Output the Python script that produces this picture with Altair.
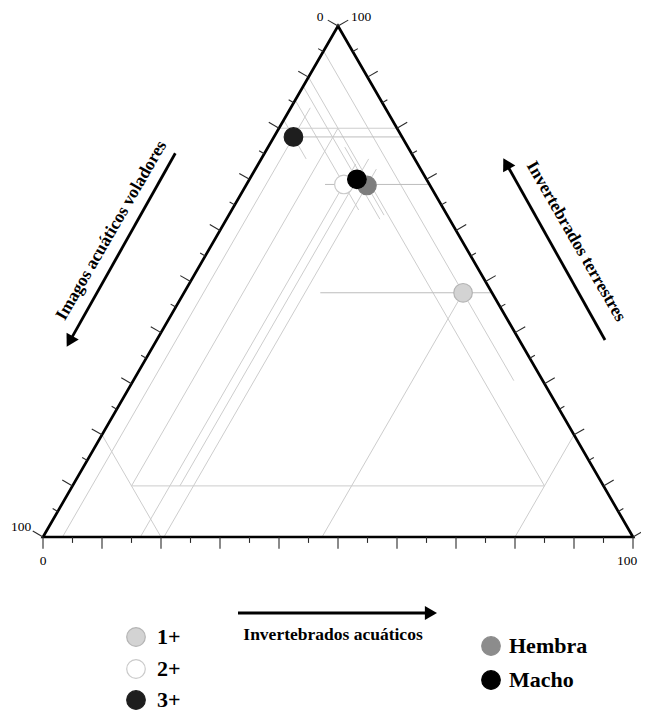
import math
import altair as alt
import pandas as pd

# ---------------- data ----------------
# composición de la dieta (%): Invertebrados acuáticos, Imagos acuáticos voladores, Invertebrados terrestres
groups = ["1+", "2+", "3+", "Hembra", "Macho"]
acuaticos = [47.3, 16.5, 3.3, 20.5, 18.2]
imagos = [4.9, 14.5, 18.4, 10.7, 11.8]
terrestres = [47.8, 69.0, 78.3, 68.8, 70.0]
draw_order = ["2+", "1+", "3+", "Hembra", "Macho"]

# guide / reading segments (acuáticos, imagos, terrestres)
seg_start = [
    (0, 20, 80), (80, 20, 0), (20, 80, 0),
    (10, 80, 10), (0, 10, 90), (10, 80, 10),
    (47.3, 52.7, 0), (0, 4.9, 95.1), (23.1, 29.1, 47.8),
    (16.5, 83.5, 0), (0, 14.5, 85.5), (13.3, 17.7, 69.0),
    (3.3, 96.7, 0), (0, 18.4, 81.6), (3.3, 18.4, 78.3),
    (18.2, 71.8, 10.0), (0, 11.8, 88.2),
    (20.5, 79.5, 0), (13.0, 10.7, 76.3),
]
seg_end = [
    (20, 0, 80), (80, 0, 20), (0, 80, 20),
    (80, 10, 10), (80, 10, 10), (10, 10, 80),
    (47.3, 4.9, 47.8), (64.5, 4.9, 30.6), (52.2, 0, 47.8),
    (16.5, 10.5, 73.0), (21.5, 14.5, 64.0), (31.0, 0, 69.0),
    (3.3, 12.7, 84.0), (7.6, 18.4, 74.0), (21.7, 0, 78.3),
    (18.2, 7.8, 74.0), (26.0, 11.8, 62.2),
    (20.5, 7.5, 72.0), (26.3, 10.7, 63.0),
]
seg_kind = ["guia"] * 6 + [
    "lectura", "lectura", "horizontal",
    "lectura", "lectura", "horizontal",
    "lectura", "lectura", "horizontal",
    "lectura", "lectura",
    "lectura", "lectura",
]

tick_values = list(range(0, 101, 5))
end_labels = ["0", "100", "100", "0", "100"]
legend_age = ["1+", "2+", "3+"]
legend_sex = ["Hembra", "Macho"]
axis_titles = ["Imagos acuáticos voladores", "Invertebrados terrestres", "Invertebrados acuáticos"]

# ---------------- styles / layout ----------------
fills = {"1+": "#d3d3d3", "2+": "#ffffff", "3+": "#1e1e1e", "Hembra": "#7d7d7d", "Macho": "#000000"}
strokes = {"1+": "#b4b4b4", "2+": "#cacaca", "3+": "#1e1e1e", "Hembra": "#7d7d7d", "Macho": "#000000"}
legend_fills = dict(fills, Hembra="#8c8c8c")
legend_strokes = dict(strokes, Hembra="#8c8c8c")

S = 5.9                      # px per ternary unit
W, H = 633, 703              # chart size (page margin 8)
BX, BY = 43 - 8, 537 - 8     # chart px of the bottom-left vertex
SQ3 = math.sqrt(3) / 2
SERIF = "Liberation Serif"

end_label_pos = [(320, 17), (361, 17), (21, 527), (43, 561), (627, 561)]
age_y = [637, 669, 700]
sex_y = [646, 680]


def tern(a, b, c):
    s = a + b + c
    a, c = 100 * a / s, 100 * c / s
    return a + c / 2, c * SQ3


def page(px, py):
    return (px - 43) / S, (537 - py) / S


xs = alt.Scale(domain=[-BX / S, (W - BX) / S], nice=False, zero=False)
ys = alt.Scale(domain=[(BY - H) / S, BY / S], nice=False, zero=False)
X = alt.X("x:Q", scale=xs, axis=None)
Y = alt.Y("y:Q", scale=ys, axis=None)

# ---------------- guide lines ----------------
rows = []
for s0, s1, k in zip(seg_start, seg_end, seg_kind):
    x0, y0 = tern(*s0)
    x1, y1 = tern(*s1)
    rows.append(dict(x=x0, y=y0, x2=x1, y2=y1, kind=k))
guides = alt.Chart(pd.DataFrame(rows)).mark_rule().encode(
    x=X, y=Y, x2="x2:Q", y2="y2:Q",
    color=alt.Color("kind:N", scale=alt.Scale(domain=["guia", "lectura", "horizontal"],
                                              range=["#cdcdcd", "#cdcdcd", "#bdbdbd"]), legend=None),
    strokeWidth=alt.StrokeWidth("kind:N", scale=alt.Scale(domain=["guia", "lectura", "horizontal"],
                                                          range=[1.0, 1.0, 1.8]), legend=None),
)

# ---------------- triangle ----------------
tri = [tern(0, 100, 0), tern(100, 0, 0), tern(0, 0, 100), tern(0, 100, 0), tern(100, 0, 0)]
tri_df = pd.DataFrame([dict(x=p[0], y=p[1], i=i) for i, p in enumerate(tri)])
outline = alt.Chart(tri_df).mark_line(color="black", strokeWidth=2.7, strokeJoin="miter").encode(
    x=X, y=Y, order="i:Q")

# ---------------- ticks ----------------
normals = [(0.0, -1.0), (-SQ3, 0.5), (SQ3, 0.5)]
trows = []
for v in tick_values:
    ln = 2.0 if v % 10 == 0 else 1.0
    bases = [tern(v, 100 - v, 0), tern(0, v, 100 - v), tern(100 - v, 0, v)]
    for (bx, by), (nx, ny) in zip(bases, normals):
        trows.append(dict(x=bx, y=by, x2=bx + nx * ln, y2=by + ny * ln))
ticks = alt.Chart(pd.DataFrame(trows)).mark_rule(color="#2a2a2a", strokeWidth=1.1).encode(
    x=X, y=Y, x2="x2:Q", y2="y2:Q")

lab_df = pd.DataFrame([dict(x=page(*p)[0], y=page(*p)[1], t=t) for t, p in zip(end_labels, end_label_pos)])
end_text = alt.Chart(lab_df).mark_text(font=SERIF, fontSize=13.5, color="#000000",
                                       align="center", baseline="middle").encode(x=X, y=Y, text="t:N")

# ---------------- data points ----------------
prow = []
for g, a, b, c in zip(groups, acuaticos, imagos, terrestres):
    x, y = tern(a, b, c)
    prow.append(dict(grupo=g, x=x, y=y, o=draw_order.index(g)))
pts_df = pd.DataFrame(prow).sort_values("o")
points = alt.Chart(pts_df).mark_point(filled=True, shape="circle", size=345, opacity=1,
                                      strokeWidth=1.2).encode(
    x=X, y=Y, order="o:Q",
    fill=alt.Fill("grupo:N", scale=alt.Scale(domain=groups, range=[fills[g] for g in groups]), legend=None),
    stroke=alt.Stroke("grupo:N", scale=alt.Scale(domain=groups, range=[strokes[g] for g in groups]), legend=None),
)

# ---------------- arrows ----------------
arrows_px = [((175.3, 153.3), (66.7, 346.7)),   # imagos
             ((605.0, 340.0), (503.3, 158.3)),  # terrestres
             ((238.0, 613.0), (437.0, 613.0))]  # acuáticos
HEAD = 196
hh = math.sqrt(HEAD) / 2 * SQ3
shaft_rows, head_rows = [], []
for (t0, t1) in arrows_px:
    dx, dy = t1[0] - t0[0], t1[1] - t0[1]
    L = math.hypot(dx, dy)
    ux, uy = dx / L, dy / L
    cx, cy = t1[0] - ux * hh, t1[1] - uy * hh
    ang = math.degrees(math.atan2(ux, -uy)) % 360
    a0, a1 = page(*t0), page(cx, cy)
    shaft_rows.append(dict(x=a0[0], y=a0[1], x2=a1[0], y2=a1[1]))
    head_rows.append(dict(x=a1[0], y=a1[1], ang=ang))
shafts = alt.Chart(pd.DataFrame(shaft_rows)).mark_rule(color="black", strokeWidth=2.8).encode(
    x=X, y=Y, x2="x2:Q", y2="y2:Q")
heads = alt.Chart(pd.DataFrame(head_rows)).mark_point(shape="triangle-up", filled=True, size=HEAD,
                                                      color="black", opacity=1).encode(
    x=X, y=Y, angle=alt.Angle("ang:Q", scale=None))

title_pos = [(111.5, 230.5, 300), (576.0, 241.5, 60), (333.0, 635.0, 0)]
title_layers = []
for t, (px, py, ang) in zip(axis_titles, title_pos):
    tx, ty = page(px, py)
    title_layers.append(
        alt.Chart(pd.DataFrame([dict(x=tx, y=ty, t=t)])).mark_text(
            font=SERIF, fontWeight="bold", fontSize=17.5, color="black",
            align="center", baseline="middle", angle=ang).encode(x=X, y=Y, text="t:N"))

# ---------------- legend ----------------
lg_rows, lt_rows = [], []
for g, py in zip(legend_age, age_y):
    cx, cy = page(136, py)
    lg_rows.append(dict(grupo=g, x=cx, y=cy))
    tx, ty = page(157, py)
    lt_rows.append(dict(t=g, x=tx, y=ty))
for g, py in zip(legend_sex, sex_y):
    cx, cy = page(491, py)
    lg_rows.append(dict(grupo=g, x=cx, y=cy))
    tx, ty = page(509, py)
    lt_rows.append(dict(t=g, x=tx, y=ty))
leg_sym = alt.Chart(pd.DataFrame(lg_rows)).mark_point(filled=True, shape="circle", size=345, opacity=1,
                                                     strokeWidth=1.2).encode(
    x=X, y=Y,
    fill=alt.Fill("grupo:N", scale=alt.Scale(domain=groups, range=[legend_fills[g] for g in groups]), legend=None),
    stroke=alt.Stroke("grupo:N", scale=alt.Scale(domain=groups, range=[legend_strokes[g] for g in groups]), legend=None),
)
leg_txt = alt.Chart(pd.DataFrame(lt_rows)).mark_text(
    font=SERIF, fontWeight="bold", fontSize=22, color="black", align="left", baseline="middle").encode(
    x=X, y=Y, text="t:N")

chart = alt.layer(guides, outline, ticks, end_text, points, shafts, heads, *title_layers,
                  leg_sym, leg_txt).properties(
    width=W, height=H, padding=0, background="white",
    autosize=alt.AutoSizeParams(type="none"),
).configure_view(stroke=None).resolve_scale(fill="independent", stroke="independent")

chart.save("out.html", embed_options={"renderer": "svg", "actions": False})
